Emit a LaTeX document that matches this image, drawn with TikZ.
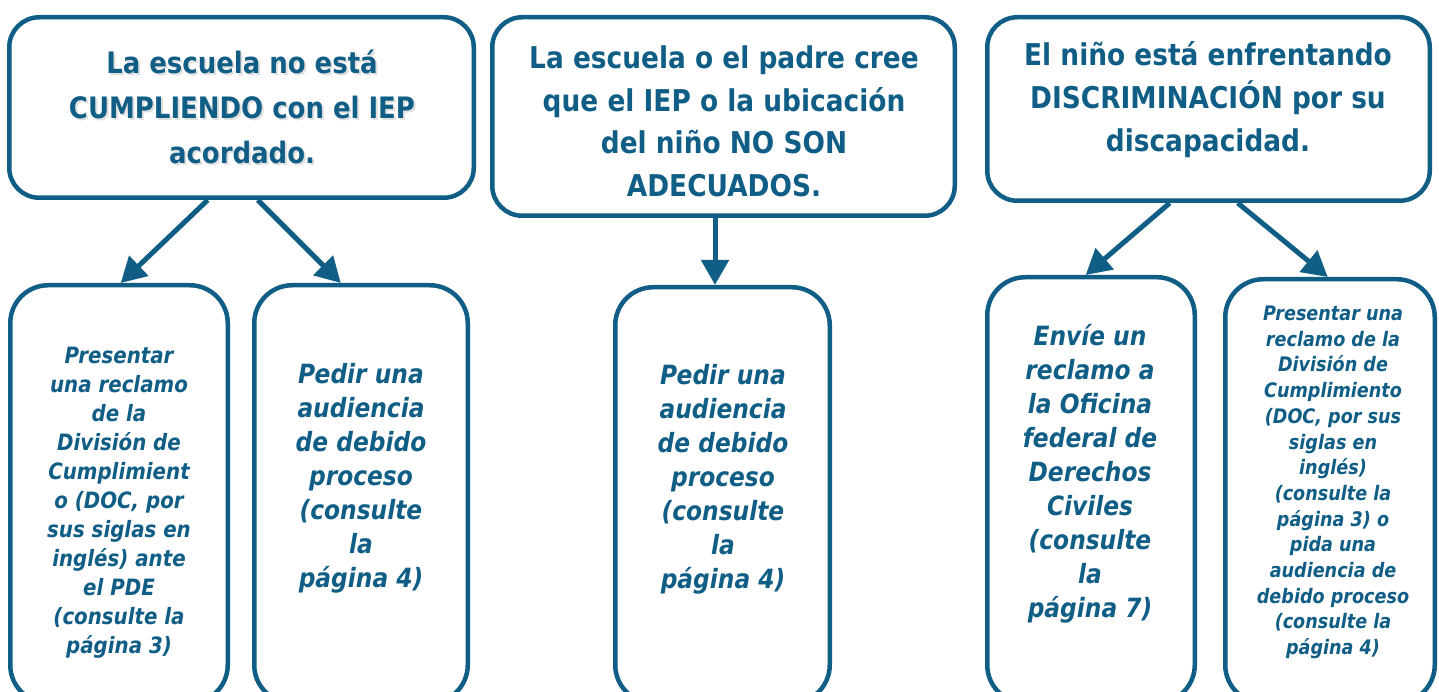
\documentclass[tikz,border=0pt]{standalone}
\usepackage{fontspec}
\setmainfont{DejaVu Sans}[FakeStretch=0.88]
\usetikzlibrary{arrows.meta}
\definecolor{navy}{RGB}{16,94,134}
\tikzset{
  topbox/.style={draw=navy, line width=4.5pt, rounded corners=30pt, inner sep=0pt},
  lowbox/.style={draw=navy, line width=4.5pt, rounded corners=38pt, inner sep=0pt},
  toptext/.style={text=navy, align=center, inner sep=0pt, font=\bfseries\fontsize{29.5}{45}\selectfont},
  lowtext/.style={text=navy, align=center, inner sep=0pt},
  arr/.style={draw=navy, line width=5pt, -{Triangle[length=25pt,width=27pt]}}
}
\begin{document}
\begin{tikzpicture}[x=1pt,y=-1pt]
\clip (0,0) rectangle (1439,692);
\fill[white] (0,0) rectangle (1439,692);
% top boxes
\node[topbox, minimum width=464.5pt, minimum height=180.5pt] (t1) at (241.5,107.5) {};
\node[topbox, minimum width=462.5pt, minimum height=198.5pt] (t2) at (723.5,116.5) {};
\node[topbox, minimum width=442.5pt, minimum height=183.5pt] (t3) at (1208.5,109) {};
% bottom boxes
\node[lowbox, minimum width=217.5pt, minimum height=417.75pt] (b1) at (119,494.1) {};
\node[lowbox, minimum width=213.5pt, minimum height=417.75pt] (b2) at (361,494.1) {};
\node[lowbox, minimum width=214.5pt, minimum height=415.75pt] (b3) at (722.5,495.1) {};
\node[lowbox, minimum width=207.5pt, minimum height=425.75pt] (b4) at (1091,490.1) {};
\node[lowbox, minimum width=209.5pt, minimum height=423.75pt] (b5) at (1330,491.1) {};
% texts
\node[toptext, text=black!30, opacity=0.4] (s1) at (244,108.5) {La escuela no está\\CUMPLIENDO con el IEP\\acordado.};
\node[toptext] (x1) at (242,106.5) {La escuela no está\\CUMPLIENDO con el IEP\\acordado.};
\node[toptext, font=\bfseries\fontsize{30}{42.5}\selectfont] (x2) at (724,121.5) {La escuela o el padre cree\\que el IEP o la ubicación\\del niño NO SON\\ADECUADOS.};
\node[toptext, font=\bfseries\fontsize{30}{43}\selectfont] (x3) at (1208,100) {El niño está enfrentando\\DISCRIMINACIÓN por su\\discapacidad.};
\node[lowtext, font=\bfseries\itshape\fontsize{22.5}{29}\selectfont] (y1) at (119,503) {Presentar\\una reclamo\\de la\\División de\\Cumplimient\\o (DOC, por\\sus siglas en\\inglés) ante\\el PDE\\(consulte la\\página 3)};
\node[lowtext, font=\bfseries\itshape\fontsize{26.5}{34}\selectfont] (y2) at (361,478.5) {Pedir una\\audiencia\\de debido\\proceso\\(consulte\\la\\página 4)};
\node[lowtext, font=\bfseries\itshape\fontsize{26.5}{34}\selectfont] (y3) at (723,479.5) {Pedir una\\audiencia\\de debido\\proceso\\(consulte\\la\\página 4)};
\node[lowtext, font=\bfseries\itshape\fontsize{26.5}{34}\selectfont] (y4) at (1090,474) {Envíe un\\reclamo a\\la Oficina\\federal de\\Derechos\\Civiles\\(consulte\\la\\página 7)};
\node[lowtext, font=\bfseries\itshape\fontsize{20}{25.7}\selectfont] (y5) at (1333,482.5) {Presentar una\\reclamo de la\\División de\\Cumplimiento\\(DOC, por sus\\siglas en\\inglés)\\(consulte la\\página 3) o\\pida una\\audiencia de\\debido proceso\\(consulte la\\página 4)};
% arrows
\draw[arr] ([xshift=200.75pt]t1.south west) -- ([xshift=112.75pt]b1.north west);
\draw[arr] ([xshift=250.75pt]t1.south west) -- ([xshift=88.75pt]b2.north west);
\draw[arr] ([xshift=-8.5pt]t2.south) -- ([xshift=-7.5pt]b3.north);
\draw[arr] ([xshift=184.75pt]t3.south west) -- ([xshift=100.75pt]b4.north west);
\draw[arr] ([xshift=252.75pt]t3.south west) -- ([xshift=104.75pt]b5.north west);
\end{tikzpicture}
\end{document}
